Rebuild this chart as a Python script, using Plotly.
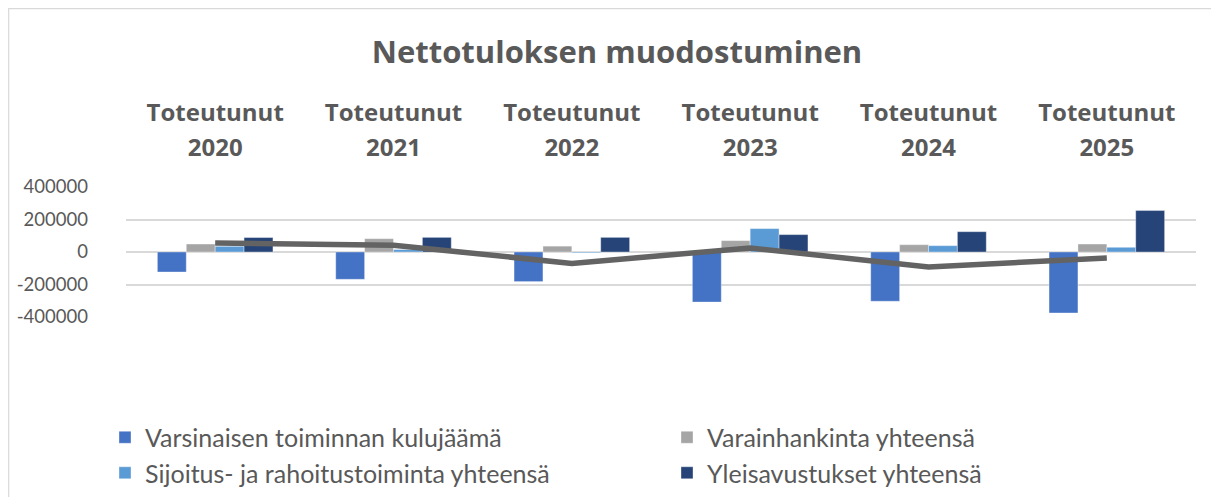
import plotly.graph_objects as go

categories = ["Toteutunut 2020", "Toteutunut 2021", "Toteutunut 2022",
              "Toteutunut 2023", "Toteutunut 2024", "Toteutunut 2025"]
tick_top = ["<b>Toteutunut</b>"] * 6
tick_years = ["<b>2020</b>", "<b>2021</b>", "<b>2022</b>", "<b>2023</b>", "<b>2024</b>", "<b>2025</b>"]

varsinainen = [-123000, -168000, -182000, -308000, -303000, -375000]
varainhankinta = [49000, 82000, 36000, 70000, 45000, 49000]
sijoitus = [35000, 15000, -5000, 144000, 39000, 29000]
yleisavustukset = [89000, 90000, 90000, 107000, 125000, 255000]
nettotulos = [55000, 42000, -70000, 25000, -92000, -37000]

series_names = ["Varsinaisen toiminnan kulujäämä", "Varainhankinta yhteensä",
                "Sijoitus- ja rahoitustoiminta yhteensä", "Yleisavustukset yhteensä"]
series_values = [varsinainen, varainhankinta, sijoitus, yleisavustukset]
colors = ["#4472C4", "#A5A5A5", "#5B9BD5", "#264478"]

# page body has 8px margin; figure coordinates = page - 8
W, H = 1211, 489
L, T = 118, 179
PLOT_R, PLOT_B = 1188, 308.7
R, B = W - PLOT_R, H - PLOT_B
pw, ph = PLOT_R - L, PLOT_B - T

def px_x(p):
    return (p - L) / pw

def px_y(p):
    return (PLOT_B - p) / ph

fig = go.Figure()
for name, vals, col in zip(series_names, series_values, colors):
    fig.add_trace(go.Bar(x=categories, y=vals, name=name, marker_color=col,
                         marker_line=dict(color="rgba(255,255,255,0.6)", width=0.6)))

fig.add_trace(go.Scatter(x=categories, y=nettotulos, mode="lines", name="Nettotulos",
                         line=dict(color="#636363", width=5.5), showlegend=False))
# carrier for the upper category label axis
fig.add_trace(go.Scatter(x=categories, y=[None] * 6, xaxis="x2", mode="lines",
                         showlegend=False, hoverinfo="skip"))

text_col = "#595959"
bold_font = "Open Sans, Lato, sans-serif"
fig.update_layout(
    width=W, height=H,
    margin=dict(l=L, r=R, t=T, b=B, autoexpand=False),
    paper_bgcolor="white", plot_bgcolor="white",
    font=dict(family="Lato, Open Sans, sans-serif", color=text_col),
    barmode="group", bargap=0.352, bargroupgap=0,
    title=dict(text="<b>Nettotuloksen muodostuminen</b>", x=609 / W, xref="container",
               y=1 - 44 / H, yref="container", yanchor="middle", xanchor="center",
               font=dict(size=31, color=text_col, family=bold_font)),
    showlegend=True,
    legend=dict(orientation="h", x=px_x(97), xanchor="left", y=px_y(406), yanchor="top",
                entrywidth=517, entrywidthmode="pixels",
                font=dict(size=25, color=text_col), traceorder="normal",
                bgcolor="rgba(0,0,0,0)"),
    xaxis=dict(side="top", type="category", tickmode="array", tickvals=categories,
               ticktext=tick_years, tickfont=dict(size=24, color=text_col, family=bold_font),
               showgrid=False, showline=False, ticks="", ticklabelstandoff=25, fixedrange=True),
    xaxis2=dict(side="top", type="category", overlaying="x", matches="x", tickmode="array",
                tickvals=categories, ticktext=tick_top,
                tickfont=dict(size=24, color=text_col, family=bold_font),
                showgrid=False, showline=False, ticks="", ticklabelstandoff=60, fixedrange=True),
    yaxis=dict(range=[-400000, 400000], tickvals=[-400000, -200000, 0, 200000, 400000],
               ticktext=["-400000", "-200000", "0", "200000", "400000"],
               tickfont=dict(size=18.5, color=text_col), showgrid=True, gridcolor="#D9D9D9",
               gridwidth=1.5, zeroline=True, zerolinecolor="#D9D9D9", zerolinewidth=1.5,
               showline=False, ticks="", ticklabelstandoff=37, fixedrange=True),
    shapes=[dict(type="rect", xref="paper", yref="paper",
                 x0=px_x(0.7), x1=px_x(1230), y0=px_y(510), y1=px_y(1),
                 line=dict(color="#D9D9D9", width=1.2), fillcolor="rgba(0,0,0,0)", layer="below")],
)

fig.write_html("out.html")
